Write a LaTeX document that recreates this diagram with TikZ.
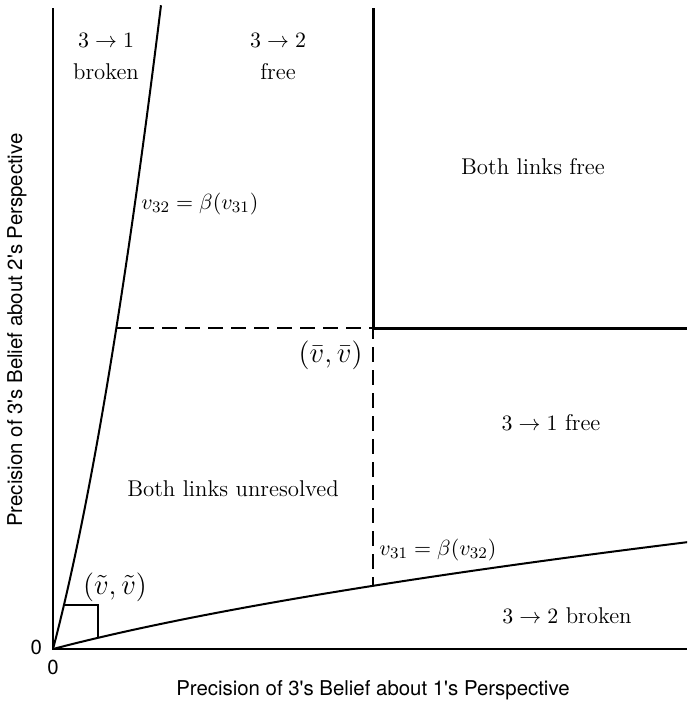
\documentclass[tikz,border=0pt]{standalone}
\usepackage{amsmath, amssymb}
\usepackage{fontspec}
\setsansfont{TeX Gyre Heros}
\usetikzlibrary{positioning, calc}

\begin{document}
\begin{tikzpicture}[
		x=0.5pt, y=-0.5pt,
		font=\fontsize{11.4}{14}\selectfont,
		% Style for the axes and curves
		axis line/.style={line width=1pt},
		curve line/.style={line width=1pt},
		% Style for the region borders
		border line/.style={line width=1.5pt},
		guide line/.style={line width=0.8pt, dash pattern=on 7.5pt off 4pt},
		% Title & Text
		region label/.style={align=center, inner sep=1pt},
		curve label/.style={inner sep=1pt},
		point label/.style={font=\fontsize{13.6}{16}\selectfont, inner sep=1pt},
		axis label/.style={font=\sffamily\fontsize{10.2}{12}\selectfont}
		]
		\useasboundingbox (0,0) rectangle (687,702);
		
		% ==============================================================================
		% Axes
		% ==============================================================================
		\coordinate (O) at (53,649);
		\coordinate (Xend) at (687,649);
		\coordinate (Yend) at (53,8);
		\draw[axis line] (Yend) -- (O) -- (Xend);
		\node[axis label, anchor=east] (y0) at ($(O)+(-4,-2)$) {0};
		\node[below=2pt of O, axis label] (x0) {0};
		\node[axis label] (xlab) at (373,690) {Precision of 3\textquotesingle s Belief about 1\textquotesingle s Perspective};
		\node[axis label, rotate=90] (ylab) at (17,330) {Precision of 3\textquotesingle s Belief about 2\textquotesingle s Perspective};
		
		% ==============================================================================
		% Best response curves
		% ==============================================================================
		\coordinate (Tl) at (64,604.8);   % tilde point on upper curve
		\coordinate (Tr) at (98.2,638);   % tilde point on lower curve
		\coordinate (Bl) at (116.4,328);  % bar level on upper curve
		\coordinate (V) at (373,328);     % (bar v, bar v)
		\coordinate (Bb) at (373,585.6);  % bar level on lower curve
		\begin{scope}
			\clip (0,0) rectangle (687,702);
			\draw[curve line] plot[domain=0:108, samples=80, variable=\t]
				({53+\t}, {649-(3.8*\t+0.02*\t*\t)});
			\draw[curve line] plot[domain=0:107, samples=80, variable=\t]
				({53+(3.8*\t+0.02*\t*\t)}, {649-\t});
		\end{scope}
		
		% small box at (tilde v, tilde v)
		\draw[line width=0.8pt] (Tl) -- (Tl -| Tr) -- (Tr);
		
		% dashed guides to (bar v, bar v)
		\draw[guide line] (Bl) -- (V) -- (Bb);
		
		% thick borders of the free region
		\draw[border line] (373,8) -- (V) -- (687,328);
		
		% ==============================================================================
		% Region labels
		% ==============================================================================
		\node[region label] (r31b) at (106,57) {$3\rightarrow1$\\[2pt]broken};
		\node[region label] (r32f) at (278,57) {$3\rightarrow2$\\[2pt]free};
		\node[region label] (both) at (533,167) {Both links free};
		\node[region label] (r31f) at (551,423) {$3\rightarrow1$ free};
		\node[region label] (unres) at (233,489) {Both links unresolved};
		\node[region label] (r32b) at (567,616) {$3\rightarrow2$ broken};
		
		% curve and point labels
		\node[curve label, anchor=west] (b32) at (139,204) {$v_{32}=\beta(v_{31})$};
		\node[curve label, anchor=west] (b31) at (377,550) {$v_{31}=\beta(v_{32})$};
		\node[point label, anchor=east] (vbar) at (365,355) {$(\bar v,\bar v)$};
		\node[point label] (vtil) at (115,587) {$(\tilde v,\tilde v)$};
	\end{tikzpicture}
\end{document}
